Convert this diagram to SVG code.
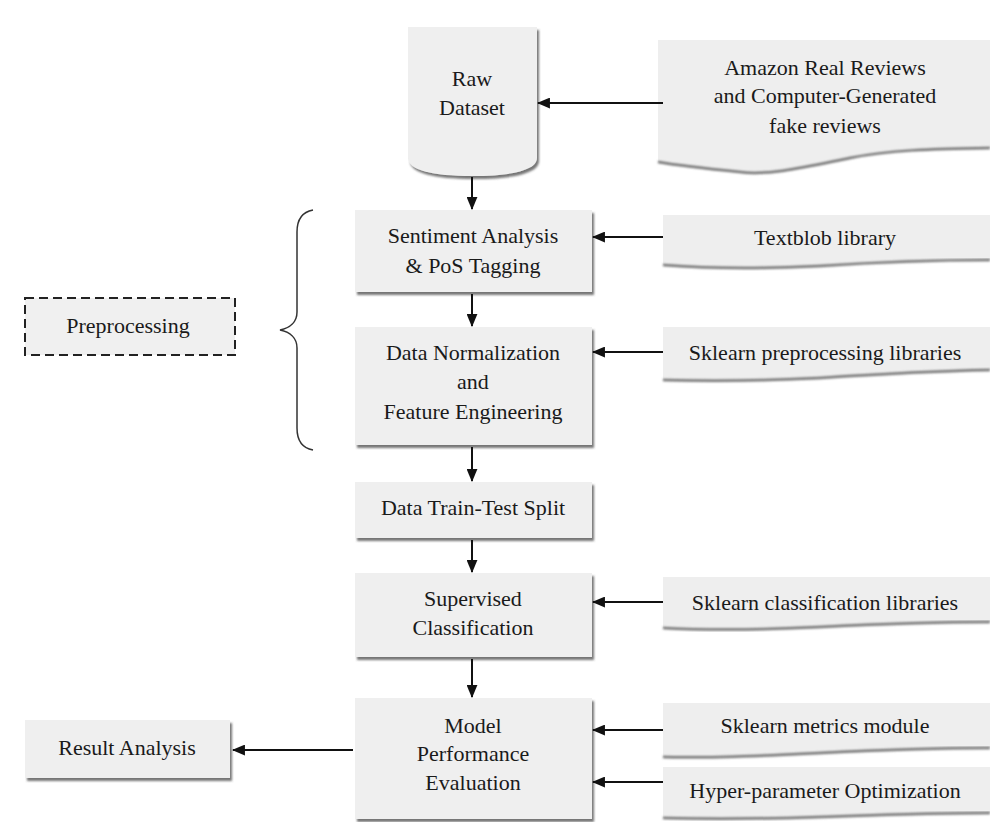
<svg xmlns="http://www.w3.org/2000/svg" width="990" height="822" viewBox="0 0 990 822">
  <defs>
    <filter id="sh" x="-5%" y="-5%" width="115%" height="120%">
      <feDropShadow dx="2" dy="3" stdDeviation="1" flood-color="#555" flood-opacity="0.8"/>
    </filter>
    <filter id="soft" x="-5%" y="-20%" width="110%" height="150%">
      <feGaussianBlur stdDeviation="0.8"/>
    </filter>
    <marker id="ah" viewBox="0 0 12 10" refX="11" refY="5" markerWidth="13" markerHeight="11" markerUnits="userSpaceOnUse" orient="auto">
      <path d="M0,0 L12,5 L0,10 z" fill="#111"/>
    </marker>
  </defs>
  <style>
    .box { fill: #efefef; filter: url(#sh); }
    .doc { fill: #eeeeee; }
    .docedge { fill: none; stroke: #707070; stroke-width: 2.5; filter: url(#soft); }
    .t { font-family: "Liberation Serif", "Times New Roman", serif; font-size: 22px; fill: #1a1a1a; text-anchor: middle; dominant-baseline: central; }
    .conn line { stroke: #111; stroke-width: 2; marker-end: url(#ah); }
    .dash { fill: #f0f0f0; stroke: #222; stroke-width: 2; stroke-dasharray: 9 5; }
    .brace { fill: none; stroke: #333; stroke-width: 1.5; }
  </style>
  <rect width="990" height="822" fill="#ffffff"/>

  <g id="raw-dataset">
    <path class="box" d="M408,27 H537 V158 C537,170 512,176 472,176 C432,176 408,170 408,158 Z"/>
    <text class="t" x="472" y="78" font-family="Liberation Serif, serif">Raw</text>
    <text class="t" x="472" y="107" font-family="Liberation Serif, serif">Dataset</text>
  </g>

  <g id="amazon-reviews">
    <path class="doc" d="M658,40 H990 V148 C930,149 890,150 850,158 C810,166 770,176 740,172 C700,168 675,165 658,162 Z"/>
    <path class="docedge" d="M990,148 C930,149 890,150 850,158 C810,166 770,176 740,172 C700,168 675,165 658,162"/>
    <text class="t" x="825" y="67">Amazon Real Reviews</text>
    <text class="t" x="825" y="95">and Computer-Generated</text>
    <text class="t" x="825" y="125">fake reviews</text>
  </g>

  <g id="sentiment-analysis">
    <rect class="box" x="355" y="210" width="237" height="82"/>
    <text class="t" x="473" y="235">Sentiment Analysis</text>
    <text class="t" x="473" y="265">&amp; PoS Tagging</text>
  </g>

  <g id="textblob">
    <path class="doc" d="M663,215 H990 V260 C930,260 880,262 820,266 C760,269 700,268 663,265 Z"/>
    <path class="docedge" d="M990,260 C930,260 880,262 820,266 C760,269 700,268 663,265"/>
    <text class="t" x="825" y="237">Textblob library</text>
  </g>

  <g id="data-normalization">
    <rect class="box" x="355" y="327" width="237" height="118"/>
    <text class="t" x="473" y="352">Data Normalization</text>
    <text class="t" x="473" y="381">and</text>
    <text class="t" x="473" y="411">Feature Engineering</text>
  </g>

  <g id="sklearn-preprocessing">
    <path class="doc" d="M663,327 H990 V370 C930,371 880,374 820,378 C760,381 700,381 663,380 Z"/>
    <path class="docedge" d="M990,370 C930,371 880,374 820,378 C760,381 700,381 663,380"/>
    <text class="t" x="825" y="352">Sklearn preprocessing libraries</text>
  </g>

  <g id="preprocessing">
    <rect class="dash" x="25" y="298" width="210" height="57"/>
    <text class="t" x="128" y="325">Preprocessing</text>
  </g>

  <g id="preprocessing-brace">
    <path class="brace" d="M313,210 C302,212 297,220 297,232 V312 C297,322 290,328 280,330 C290,332 297,338 297,348 V428 C297,440 302,448 313,450"/>
  </g>

  <g id="train-test-split">
    <rect class="box" x="355" y="482" width="237" height="56"/>
    <text class="t" x="473" y="507">Data Train-Test Split</text>
  </g>

  <g id="supervised-classification">
    <rect class="box" x="355" y="573" width="237" height="84"/>
    <text class="t" x="473" y="598">Supervised</text>
    <text class="t" x="473" y="627">Classification</text>
  </g>

  <g id="sklearn-classification">
    <path class="doc" d="M663,577 H990 V622 C930,622 880,624 820,627 C760,630 700,630 663,628 Z"/>
    <path class="docedge" d="M990,622 C930,622 880,624 820,627 C760,630 700,630 663,628"/>
    <text class="t" x="825" y="602">Sklearn classification libraries</text>
  </g>

  <g id="model-evaluation">
    <rect class="box" x="355" y="698" width="237" height="121"/>
    <text class="t" x="473" y="725">Model</text>
    <text class="t" x="473" y="753">Performance</text>
    <text class="t" x="473" y="782">Evaluation</text>
  </g>

  <g id="sklearn-metrics">
    <path class="doc" d="M663,703 H990 V748 C930,748 880,750 820,753 C760,756 700,758 663,757 Z"/>
    <path class="docedge" d="M990,748 C930,748 880,750 820,753 C760,756 700,758 663,757"/>
    <text class="t" x="825" y="725">Sklearn metrics module</text>
  </g>

  <g id="hyper-parameter">
    <path class="doc" d="M663,767 H990 V813 C930,813 880,815 820,817 C760,819 700,819 663,818 Z"/>
    <path class="docedge" d="M990,813 C930,813 880,815 820,817 C760,819 700,819 663,818"/>
    <text class="t" x="825" y="790">Hyper-parameter Optimization</text>
  </g>

  <g id="result-analysis">
    <rect class="box" x="25" y="720" width="205" height="58"/>
    <text class="t" x="127" y="747">Result Analysis</text>
  </g>

  <g id="connectors" class="conn">
    <line x1="663" y1="103" x2="538" y2="103"/>
    <line x1="472" y1="177" x2="472" y2="209"/>
    <line x1="663" y1="237" x2="593" y2="237"/>
    <line x1="472" y1="294" x2="472" y2="326"/>
    <line x1="663" y1="352" x2="593" y2="352"/>
    <line x1="472" y1="447" x2="472" y2="481"/>
    <line x1="472" y1="540" x2="472" y2="572"/>
    <line x1="663" y1="602" x2="593" y2="602"/>
    <line x1="472" y1="659" x2="472" y2="697"/>
    <line x1="663" y1="730" x2="593" y2="730"/>
    <line x1="663" y1="782" x2="593" y2="782"/>
    <line x1="353" y1="750" x2="233" y2="750"/>
  </g>
</svg>
